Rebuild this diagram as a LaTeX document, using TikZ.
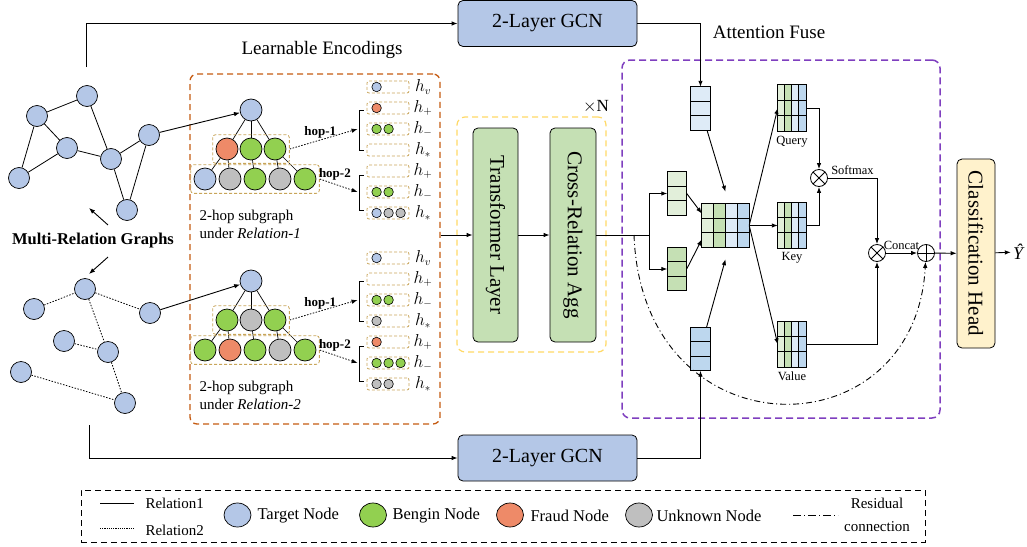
\documentclass[tikz,border=0pt]{standalone}
\usepackage{fontspec}
\setmainfont{Liberation Serif}
\usetikzlibrary{arrows.meta, positioning, fit, shapes.geometric}

\definecolor{tblue}{HTML}{B4C7E7}
\definecolor{bgreen}{HTML}{92D050}
\definecolor{forange}{HTML}{EE8A68}
\definecolor{ugray}{HTML}{BFBFBF}
\definecolor{tfgreen}{HTML}{C5E0B4}
\definecolor{headyel}{HTML}{FFF2CC}
\definecolor{encorange}{HTML}{C55A11}
\definecolor{loopyel}{HTML}{FFD966}
\definecolor{fusepurp}{HTML}{7F3FBF}
\definecolor{slotgold}{HTML}{C8A55A}
\definecolor{clgreen}{HTML}{E2EFDA}
\definecolor{cmgreen}{HTML}{C5E0B4}
\definecolor{clblue}{HTML}{DEEBF7}
\definecolor{cmblue}{HTML}{BDD7EE}

% cells of a 3-row vector and of a 4x3 feature block
\newcommand{\veccells}[2]{%
  \foreach \cj in {1,2}
    \draw[line width=0.7pt] ([yshift=-\cj*#2/3*1pt]#1.north west) -- ([yshift=-\cj*#2/3*1pt]#1.north east);
  \draw[line width=0.7pt] (#1.north west) rectangle (#1.south east);}
\newcommand{\qkvcells}[3]{%
  \foreach \cc [count=\ci from 0] in {clgreen,cmgreen,clblue,cmblue}
    \fill[\cc] ([xshift=\ci*#2/4*1pt]#1.north west) rectangle ([xshift=(\ci+1)*#2/4*1pt]#1.south west);
  \foreach \ci in {1,2,3}
    \draw[line width=0.7pt] ([xshift=\ci*#2/4*1pt]#1.north west) -- ([xshift=\ci*#2/4*1pt]#1.south west);
  \veccells{#1}{#3}}

\tikzset{
  gnode/.style={circle, draw, line width=0.7pt, minimum size=21pt, inner sep=0pt},
  tnode/.style={gnode, fill=tblue},
  bnode/.style={gnode, fill=bgreen},
  fnode/.style={gnode, fill=forange},
  unode/.style={gnode, fill=ugray},
  big/.style={minimum size=22pt},
  sml/.style={minimum size=9.5pt, line width=0.6pt},
  slot/.style={draw=slotgold, dash pattern=on 3pt off 2pt, rounded corners=2pt, minimum width=42pt, minimum height=12pt, inner sep=0pt, line width=0.8pt},
  hopbox/.style={draw=slotgold, dash pattern=on 3pt off 2pt, rounded corners=3pt, inner sep=3pt, line width=0.8pt},
  block/.style={draw, line width=0.8pt, rounded corners=5pt, inner sep=0pt},
  vec/.style={fill=#1, minimum width=19pt, minimum height=43pt, inner sep=0pt},
  fusemat/.style n args={2}{minimum width=#1pt, minimum height=#2pt, inner sep=0pt},
  op/.style={circle, draw, line width=0.8pt, minimum size=17pt, inner sep=0pt},
  times/.style={op, path picture={\draw[line width=0.8pt] (path picture bounding box.north west) -- (path picture bounding box.south east) (path picture bounding box.north east) -- (path picture bounding box.south west);}},
  plus/.style={op, path picture={\draw[line width=0.8pt] (path picture bounding box.north) -- (path picture bounding box.south) (path picture bounding box.west) -- (path picture bounding box.east);}},
  lgd/.style={ellipse, draw, line width=0.7pt, minimum width=27pt, minimum height=24pt, inner sep=0pt},
  link/.style={->, line width=0.9pt},
  dotline/.style={line width=0.8pt, dash pattern=on 1.5pt off 1.5pt},
  txtbig/.style={font=\fontsize{21}{24}\selectfont},
  txtlbl/.style={font=\fontsize{19}{22}\selectfont},
  txtsml/.style={font=\fontsize{12.5}{15}\selectfont},
  txtleg/.style={font=\fontsize{16.5}{19}\selectfont},
}

\begin{document}
\begin{tikzpicture}[x=1pt, y=-1pt, >={Latex[length=6pt,width=4.5pt]}, every node/.style={font=\fontsize{15}{18}\selectfont}]
\useasboundingbox (0,0) rectangle (1027,546);

% graph under relation 1
\foreach \n/\px/\py in {1/87/96, 2/37/116, 3/67/148, 4/111/159, 5/149/135, 6/19/178, 7/127/210}
  \node[tnode] (ra\n) at (\px,\py) {};
\foreach \u/\v in {2/1, 1/4, 2/3, 3/4, 2/6, 6/3, 4/5, 4/7, 5/7}
  \draw[line width=0.8pt] (ra\u) -- (ra\v);

% graph under relation 2
\foreach \n/\px/\py in {1/85/289, 2/34/309, 3/150/313, 4/64/341, 5/108/352, 6/21/372, 7/125/403}
  \node[tnode] (rb\n) at (\px,\py) {};
\foreach \u/\v in {2/1, 1/3, 1/5, 4/5, 5/7, 6/7}
  \draw[dotline] (rb\u) -- (rb\v);

\node[font=\bfseries\fontsize{16.5}{19}\selectfont] (mrg) at (93,241) {Multi-Relation Graphs};
\draw[link] ([xshift=15pt,yshift=5pt]mrg.north) -- ++(-19,-17);
\draw[link] ([xshift=15pt,yshift=-5pt]mrg.south) -- ++(-19,17);

% learnable encodings
\node[draw=encorange, dash pattern=on 6pt off 4pt, line width=1.3pt, rounded corners=7pt, minimum width=250pt, minimum height=350pt] (enc) at (315,249) {};
\node[txtlbl] (encl) at (322,50) {Learnable Encodings};

\foreach \s/\dy/\lone/\ltwo in {1/0/{fnode,bnode,bnode}/{tnode,unode,bnode,unode,bnode}, 2/171/{bnode,unode,bnode}/{bnode,fnode,bnode,unode,bnode}} {
  \node[tnode, big] (sr\s) at (251,110+\dy) {};
  \foreach \c [count=\i] in \lone
    \node[\c, big] (sa\s-\i) at (203+24*\i,149+\dy) {};
  \foreach \c [count=\i] in \ltwo
    \node[\c, big] (sb\s-\i) at (180+25*\i,179+\dy) {};
  \foreach \i in {1,2,3}
    \draw[line width=0.7pt] (sr\s) -- (sa\s-\i);
  \foreach \i/\j in {1/1, 1/2, 2/3, 3/4, 3/5}
    \draw[line width=0.7pt] (sa\s-\i) -- (sb\s-\j);
  \node[hopbox, fit=(sa\s-1)(sa\s-3)] (hb\s-1) {};
  \node[hopbox, fit=(sb\s-1)(sb\s-5)] (hb\s-2) {};
  \foreach \r/\lab in {1/v, 2/+, 3/-, 4/*, 5/+, 6/-, 7/*} {
    \node[slot] (sl\s-\r) at (388,66+21*\r+\dy) {};
    \node[font=\fontsize{16}{18}\selectfont] (hl\s-\r) at (423,66+21*\r+\dy) {$h_{\lab}$};
  }
  \draw[line width=0.8pt] ([xshift=-3pt,yshift=-2pt]sl\s-2.west) -- ++(-4,0) |- ([xshift=-3pt]sl\s-4.west);
  \draw[line width=0.8pt] ([xshift=-3pt,yshift=-4pt]sl\s-5.west) -- ++(-4,0) |- ([xshift=-3pt,yshift=3pt]sl\s-7.west);
  \draw[->, dotline] (hb\s-1.east) -- ([xshift=-9pt]sl\s-3.west)
    node[pos=0.45, above=-2pt, font=\bfseries\fontsize{13}{15}\selectfont] (hop\s-1) {hop-1};
  \draw[->, dotline] (hb\s-2.east) -- ([xshift=-9pt]sl\s-6.west)
    node[pos=0.4, above=0pt, font=\bfseries\fontsize{13}{15}\selectfont] (hop\s-2) {hop-2};
  \node[anchor=west, align=left] (cap\s) at (196,224+\dy) {2-hop subgraph\\under \textit{Relation-\s}};
}

\foreach \s/\r/\k/\c [evaluate=\k as \xo using 10+12*(\k-1)] in {1/1/1/tnode, 1/2/1/fnode, 1/3/1/bnode, 1/3/2/bnode, 1/6/1/bnode, 1/6/2/bnode, 1/7/1/tnode, 1/7/2/unode, 1/7/3/unode, 2/1/1/tnode, 2/3/1/bnode, 2/3/2/bnode, 2/4/1/unode, 2/5/1/fnode, 2/6/1/bnode, 2/6/2/bnode, 2/6/3/bnode, 2/7/1/unode, 2/7/2/unode}
  \node[\c, sml] (sc\s-\r-\k) at ([xshift=\xo pt]sl\s-\r.west) {};

\draw[link] (ra5) -- (sr1);
\draw[link] (rb3) -- (sr2);

% transformer stack
\node[draw=loopyel, dash pattern=on 6pt off 4pt, line width=1.2pt, rounded corners=8pt, minimum width=149pt, minimum height=235pt] (loop) at (531.5,234.5) {};
\node[font=\fontsize{17}{20}\selectfont] (rep) at (596,107) {$\times$N};
\node[block, fill=tfgreen, rotate=-90, minimum width=214pt, minimum height=45pt, txtbig] (tl) at (495.5,235) {Transformer Layer};
\node[block, fill=tfgreen, rotate=-90, minimum width=214pt, minimum height=46pt, txtbig] (cra) at (573,235) {Cross-Relation Agg};
\draw[link] (enc.east |- tl) -- (tl);
\draw[link] (tl) -- (cra);

% GCN branches
\node[block, fill=tblue, minimum width=179pt, minimum height=46pt, font=\fontsize{20}{24}\selectfont] (gcn1) at (547.5,23.5) {2-Layer GCN};
\node[block, fill=tblue, minimum width=179pt, minimum height=46pt, font=\fontsize{20}{24}\selectfont] (gcn2) at (547.5,458) {2-Layer GCN};
\coordinate (gtop) at (86,67);
\coordinate (gbot) at (89,425);
\draw[link] (gtop) |- (gcn1);
\draw[link] (gbot) |- (gcn2);

% attention fuse
\node[draw=fusepurp, dash pattern=on 7pt off 4pt, line width=1.5pt, rounded corners=8pt, minimum width=318pt, minimum height=358pt] (fuse) at (781,239) {};
\node[txtlbl] (afl) at (769,32) {Attention Fuse};

\node[vec=clblue] (vt) at (700.5,108.5) {};
\node[vec=cmblue] (vb) at (700.5,349) {};
\node[vec=clgreen] (vg1) at (677,193.5) {};
\node[vec=cmgreen] (vg2) at (677,269) {};
\veccells{vt}{43} \veccells{vb}{43} \veccells{vg1}{43} \veccells{vg2}{43}
\node[fusemat={47}{43}] (cm) at (725.5,225.5) {};
\node[fusemat={28}{46}] (qm) at (792,108) {};
\node[fusemat={28}{45}] (km) at (792,225.5) {};
\node[fusemat={28}{45}] (vm) at (792,344.5) {};
\qkvcells{cm}{47}{43} \qkvcells{qm}{28}{46} \qkvcells{km}{28}{45} \qkvcells{vm}{28}{45}
\node[below=1pt, txtsml] (qml) at (qm.south) {Query};
\node[below=1pt, txtsml] (kml) at (km.south) {Key};
\node[below=1pt, txtsml] (vml) at (vm.south) {Value};

\draw[link] (gcn1) -| (vt);
\draw[link] (gcn2) -| (vb);

\coordinate (fork) at (649,235);
\coordinate (resid) at (634,235);
\draw[line width=0.9pt] (cra) -- (fork);
\draw[link] (fork) |- (vg1);
\draw[link] (fork) |- (vg2);
\draw[link] (vg1.east) -- ([yshift=12pt]cm.west);
\draw[link] (vg2.east) -- ([yshift=-14pt]cm.west);
\draw[link] (vt) -- ([yshift=12pt]cm.north);
\draw[link] (vb) -- ([yshift=-12pt]cm.south);
\draw[link] (cm.east) -- (qm.west);
\draw[link] (cm.east) -- (km.west);
\draw[link] (cm.east) -- (vm.west);

\node[times] (m1) at (819,178) {};
\node[times] (m2) at (877,253) {};
\node[plus] (pl) at (926,253) {};
\draw[link] (qm.east) -| (m1);
\draw[link] (km.east) -| (m1);
\draw[link] (m1) -| node[pos=0.25, above=0pt, txtsml] (smx) {Softmax} (m2);
\draw[link] (vm.east) -| (m2);
\draw[link] (m2) -- node[above=0pt, txtsml] (cct) {Concat} (pl);
\draw[link, dash pattern=on 6pt off 3pt on 1pt off 3pt] (resid) .. controls (642,455) and (915,455) .. (pl);

% classification
\node[block, fill=headyel, rotate=-90, minimum width=189pt, minimum height=38pt, txtbig] (ch) at (976,253.5) {Classification Head};
\node[font=\itshape\fontsize{18}{20}\selectfont, inner sep=2pt] (yhat) at (1018,252) {Ŷ};
\draw[link] (pl) -- (ch);
\draw[link] (ch) -- (yhat);

% legend
\node[draw, dash pattern=on 6pt off 4pt, line width=1pt, minimum width=844pt, minimum height=52pt] (lgdbox) at (503,516) {};
\coordinate (r1a) at (100,503);
\coordinate (r1b) at (134,503);
\coordinate (r2a) at (100,528);
\coordinate (r2b) at (134,528);
\draw[line width=0.7pt] (r1a) -- (r1b);
\draw[line width=0.7pt, dash pattern=on 1.2pt off 1pt] (r2a) -- (r2b);
\node[anchor=west] (r1t) at (142,503) {Relation1};
\node[anchor=west] (r2t) at (142,530) {Relation2};
\node[lgd, fill=tblue] (lt) at (237.5,515) {};
\node[anchor=west, txtleg] (ltt) at (254,516) {Target Node};
\node[lgd, fill=bgreen] (lb) at (373,515) {};
\node[anchor=west, txtleg] (lbt) at (389,516) {Bengin Node};
\node[lgd, fill=forange] (lf) at (510,515) {};
\node[anchor=west, txtleg] (lft) at (527,516) {Fraud Node};
\node[lgd, fill=ugray] (lu) at (639,515) {};
\node[anchor=west, txtleg] (lut) at (653,516) {Unknown Node};
\coordinate (rsa) at (793,515);
\coordinate (rsb) at (838,515);
\draw[line width=1pt, dash pattern=on 8pt off 3pt on 1pt off 3pt] (rsa) -- (rsb);
\node[align=center, font=\fontsize{15}{23}\selectfont] (rst) at (877,515) {Residual\\connection};
\end{tikzpicture}
\end{document}
